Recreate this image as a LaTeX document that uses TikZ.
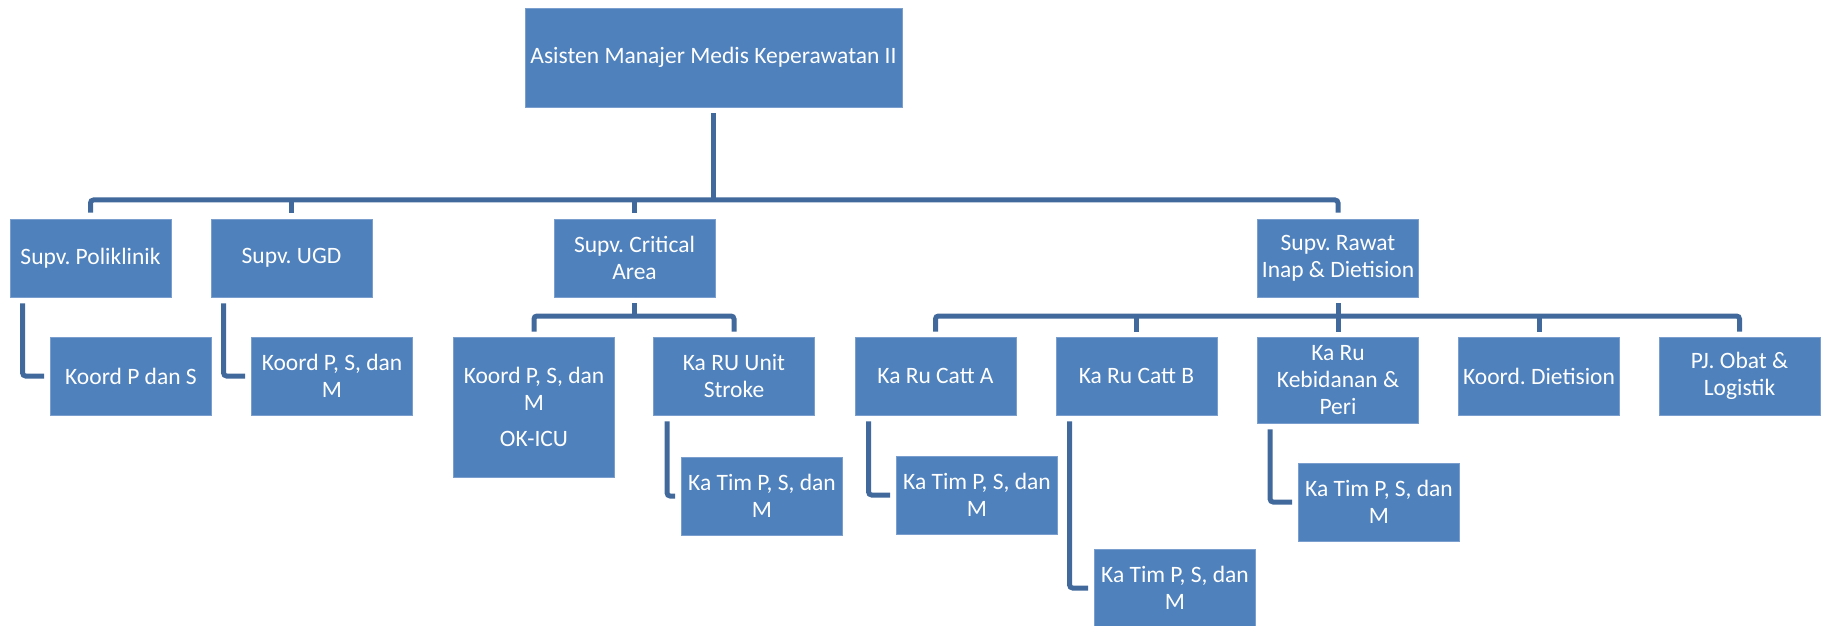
\documentclass[tikz,border=0pt]{standalone}
\usepackage{fontspec}
\setmainfont{Carlito}
\usetikzlibrary{calc}
\definecolor{boxblue}{HTML}{4F81BD}
\definecolor{boxedge}{HTML}{7A9FCE}
\definecolor{linkblue}{HTML}{41699C}
\frenchspacing
\begin{document}
\begin{tikzpicture}[x=0.5pt,y=-0.5pt,
  orgbox/.style={rectangle, fill=boxblue, draw=boxedge, line width=0.4pt,
    text=white, font=\fontsize{11.75}{13.4}\selectfont, align=center,
    minimum width=80.5pt, minimum height=39pt, inner sep=1pt},
  link/.style={draw=linkblue, line width=2.5pt, rounded corners=1.5pt}]
\useasboundingbox (0,0) rectangle (1827,626);

% levels of the chart
\coordinate (bus1) at (0,200);
\coordinate (bus2) at (0,316);

% head
\node[orgbox, minimum width=188.5pt, minimum height=49.5pt] (top) at (713.5,57.5)
  {Asisten Manajer Medis Keperawatan II};

% supervisors
\node[orgbox] (sP) at (90.5,258)  {Supv. Poliklinik};
\node[orgbox] (sU) at (291.5,258) {Supv. UGD};
\node[orgbox] (sC) at (634.5,258) {Supv. Critical\\Area};
\node[orgbox] (sR) at (1338,258)  {Supv. Rawat\\Inap \& Dietision};

% second level
\node[orgbox] (kP) at (131,376) {Koord P dan S};
\node[orgbox] (kU) at (332,376) {Koord P, S, dan\\M};
\node[orgbox, minimum height=70pt] (kC) at (534,407) {Koord P, S, dan\\M\\[5pt]OK-ICU};
\node[orgbox] (rS) at (734,376)  {Ka RU Unit\\Stroke};
\node[orgbox] (cA) at (935.5,376) {Ka Ru Catt A};
\node[orgbox] (cB) at (1136.5,376) {Ka Ru Catt B};
\node[orgbox, minimum height=43pt] (kb) at (1338,380) {Ka Ru\\Kebidanan \&\\Peri};
\node[orgbox] (dt) at (1539,376) {Koord. Dietision};
\node[orgbox] (pj) at (1739.5,376) {PJ. Obat \&\\Logistik};

% team leaders
\node[orgbox] (tS) at (762,496)  {Ka Tim P, S, dan\\M};
\node[orgbox] (tA) at (977,495)  {Ka Tim P, S, dan\\M};
\node[orgbox] (tB) at (1175,588) {Ka Tim P, S, dan\\M};
\node[orgbox] (tK) at (1379,502) {Ka Tim P, S, dan\\M};

% head to supervisors
\draw[link] ($(top.south)+(0,6)$) -- (top.south |- bus1);
\draw[link] ($(sP.north)+(0,-6)$) -- (sP.north |- bus1) -- (sR.north |- bus1) -- ($(sR.north)+(0,-6)$);
\draw[link] (sU.north |- bus1) -- ($(sU.north)+(0,-6)$);
\draw[link] (sC.north |- bus1) -- ($(sC.north)+(0,-6)$);

% side elbows
\draw[link] ($(sP.south west)+(13,6)$) |- ($(kP.west)+(-6,0)$);
\draw[link] ($(sU.south west)+(13,6)$) |- ($(kU.west)+(-6,0)$);
\draw[link] ($(rS.south west)+(14,6)$) |- ($(tS.west)+(-6,0)$);
\draw[link] ($(cA.south west)+(14,6)$) |- ($(tA.west)+(-6,0)$);
\draw[link] ($(cB.south west)+(14,6)$) |- ($(tB.west)+(-6,0)$);
\draw[link] ($(kb.south west)+(13,6)$) |- ($(tK.west)+(-6,0)$);

% critical area branch
\draw[link] ($(sC.south)+(0,6)$) -- (sC.south |- bus2);
\draw[link] ($(kC.north)+(0,-5)$) -- (kC.north |- bus2) -- (rS.north |- bus2) -- ($(rS.north)+(0,-5)$);

% inpatient branch
\draw[link] ($(sR.south)+(0,6)$) -- (sR.south |- bus2);
\draw[link] ($(cA.north)+(0,-5)$) -- (cA.north |- bus2) -- (pj.north |- bus2) -- ($(pj.north)+(0,-5)$);
\draw[link] (cB.north |- bus2) -- ($(cB.north)+(0,-5)$);
\draw[link] (kb.north |- bus2) -- ($(kb.north)+(0,-5)$);
\draw[link] (dt.north |- bus2) -- ($(dt.north)+(0,-5)$);
\end{tikzpicture}
\end{document}
